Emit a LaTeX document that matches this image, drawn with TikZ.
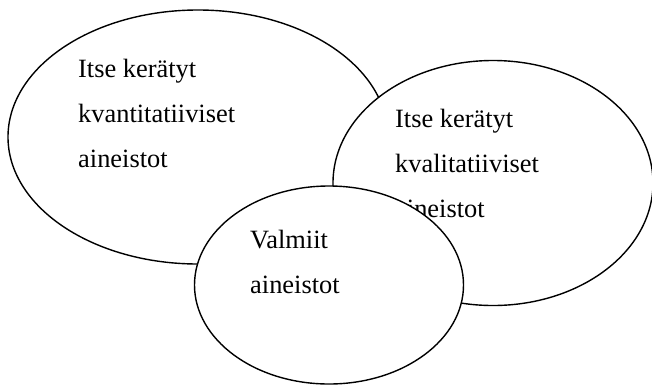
\documentclass[tikz,border=0pt]{standalone}
\usepackage{fontspec}
\setmainfont{Liberation Serif}
\usetikzlibrary{shapes.geometric}

\begin{document}
\begin{tikzpicture}[
  x=1bp, y=-1bp,
  %% Data-set ellipses — white fill so later ones cover earlier ones
  blob/.style={
    draw=black, fill=white, ellipse, line width=1.4bp, inner sep=0pt
  },
  %% Labels inside the ellipses (anchored at the last line's baseline)
  lbl/.style={
    anchor=base west, align=left, inner sep=0pt,
    font=\fontsize{26.5}{45}\selectfont
  }
]
\useasboundingbox (0,0) rectangle (652,385);

%% ── Quantitative ─────────────────────────────────────────────
\node[blob, minimum width=380bp, minimum height=254bp] (kvant) at (198,137) {};
\node[lbl] (kvanttxt) at (78,167) {Itse kerätyt\\kvantitatiiviset\\aineistot};

%% ── Qualitative ──────────────────────────────────────────────
\node[blob, minimum width=320bp, minimum height=245bp] (kval) at (493,183) {};
\node[lbl] (kvaltxt) at (395,217) {Itse kerätyt\\kvalitatiiviset\\aineistot};

%% ── Ready-made ───────────────────────────────────────────────
\node[blob, minimum width=269bp, minimum height=198bp] (valm) at (329,285) {};
\node[lbl] (valmtxt) at (250,293) {Valmiit\\aineistot};

\end{tikzpicture}
\end{document}
